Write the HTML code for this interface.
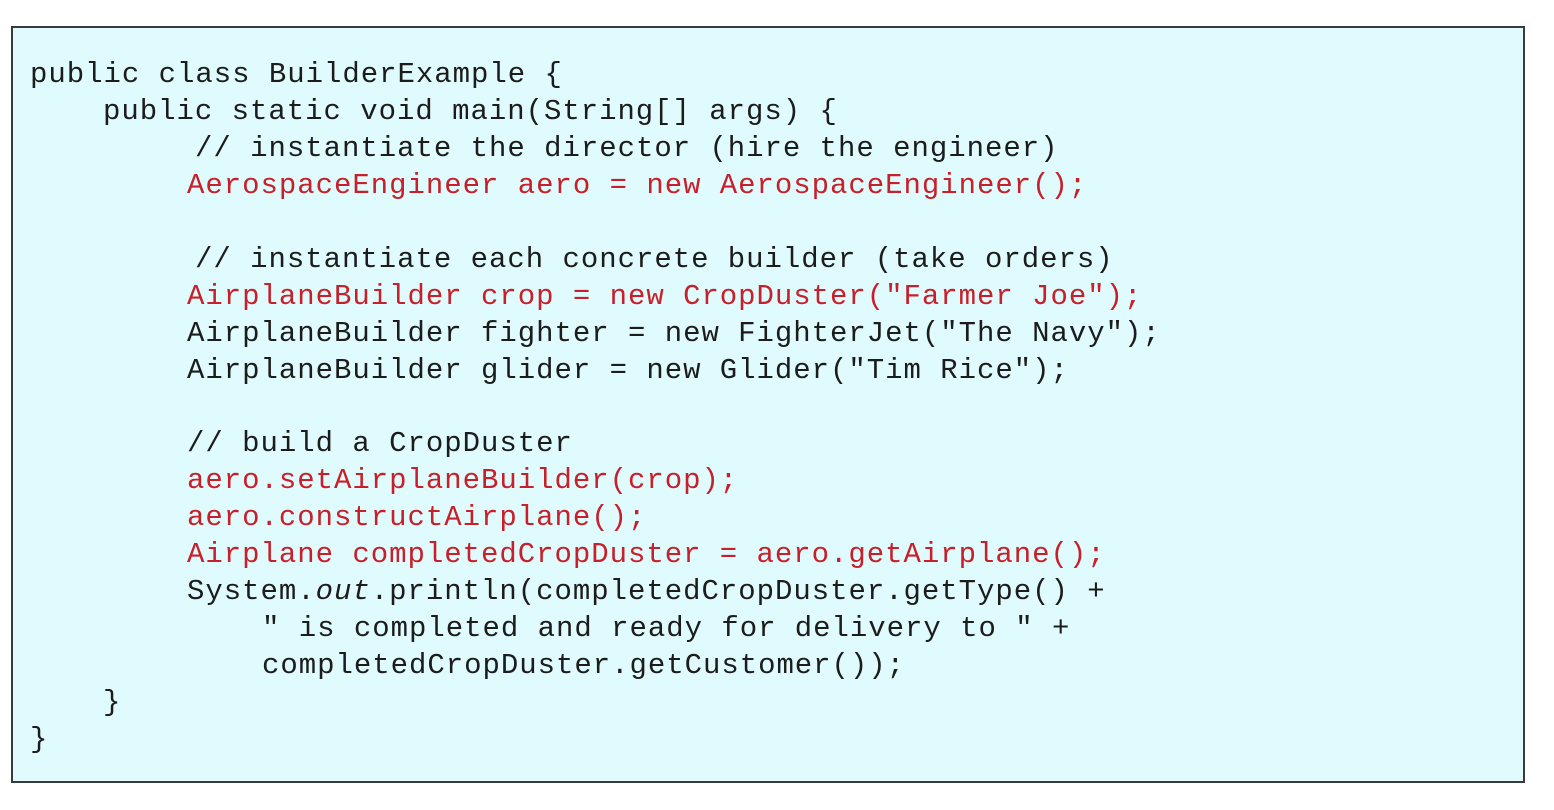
<!DOCTYPE html>
<html><head><meta charset="utf-8"><style>
html,body{margin:0;padding:0;background:#fff;width:1554px;height:810px;overflow:hidden}
.box{position:absolute;left:11px;top:26px;width:1514px;height:757px;background:#e0fbfd;border:2px solid #3a3a3a;box-sizing:border-box}
.l{position:absolute;font-family:"Liberation Mono",monospace;font-size:29px;letter-spacing:0.97px;line-height:37px;height:37px;color:#1c1c1c;white-space:pre}
.r{color:#c8202a}
</style></head><body>
<div class="box"></div>
<div class="l" style="left:30px;top:56px">public class BuilderExample {</div>
<div class="l" style="left:103px;top:93px">public static void main(String[] args) {</div>
<div class="l" style="left:195px;top:130px">// instantiate the director (hire the engineer)</div>
<div class="l r" style="left:187px;top:167px">AerospaceEngineer aero = new AerospaceEngineer();</div>
<div class="l" style="left:195px;top:241px">// instantiate each concrete builder (take orders)</div>
<div class="l r" style="left:187px;top:278px">AirplaneBuilder crop = new CropDuster("Farmer Joe");</div>
<div class="l" style="left:187px;top:315px">AirplaneBuilder fighter = new FighterJet("The Navy");</div>
<div class="l" style="left:187px;top:352px">AirplaneBuilder glider = new Glider("Tim Rice");</div>
<div class="l" style="left:187px;top:425px">// build a CropDuster</div>
<div class="l r" style="left:187px;top:462px">aero.setAirplaneBuilder(crop);</div>
<div class="l r" style="left:187px;top:499px">aero.constructAirplane();</div>
<div class="l r" style="left:187px;top:536px">Airplane completedCropDuster = aero.getAirplane();</div>
<div class="l" style="left:187px;top:573px">System.<i>out</i>.println(completedCropDuster.getType() +</div>
<div class="l" style="left:262px;top:610px">" is completed and ready for delivery to " +</div>
<div class="l" style="left:262px;top:647px">completedCropDuster.getCustomer());</div>
<div class="l" style="left:103px;top:684px">}</div>
<div class="l" style="left:30px;top:721px">}</div>
</body></html>
